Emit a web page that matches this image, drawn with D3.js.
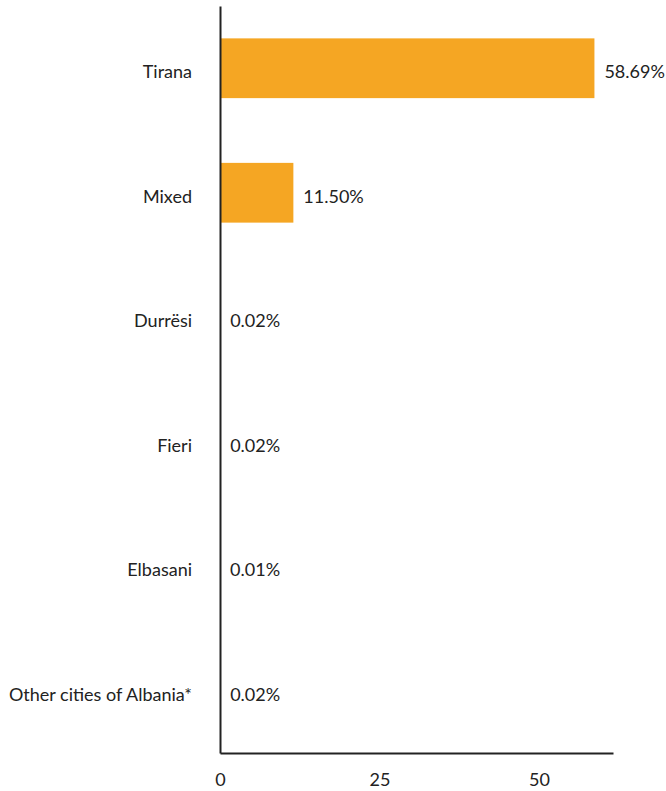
<!DOCTYPE html>
<html>
<head>
<meta charset="utf-8">
<script src="https://cdn.jsdelivr.net/npm/d3@7"></script>
<style>
    body { margin: 0; background: #fff; }
    svg text { font-family: Lato, "Open Sans", sans-serif; fill: #222; }
</style>
</head>
<body>
<div id="grafica"></div>
<script>
"use strict";

const ciudades = ["Tirana", "Mixed", "Durrësi", "Fieri", "Elbasani", "Other cities of Albania*"];
const valores = [58.69, 11.50, 0.02, 0.02, 0.01, 0.02];
const etiquetas = ["58.69%", "11.50%", "0.02%", "0.02%", "0.01%", "0.02%"];
const ticks = [0, 25, 50];

const width = 666, height = 791;
const margin = { top: 6, left: 220, right: 53, bottom: 38 };

const svg = d3.select('#grafica').append('svg')
    .attr('width', width)
    .attr('height', height);

const x = d3.scaleLinear()
    .domain([0, 61.6])
    .range([margin.left, width - margin.right]);

const y = d3.scaleBand()
    .domain(ciudades)
    .range([margin.top, height - margin.bottom])
    .paddingInner(0.52)
    .paddingOuter(0.26);

// barras
svg.selectAll('.barra')
    .data(valores)
    .enter().append('rect')
    .attr('class', 'barra')
    .attr('x', x(0))
    .attr('y', (d, i) => y(ciudades[i]))
    .attr('width', (d) => x(d) - x(0))
    .attr('height', y.bandwidth())
    .attr('fill', '#f5a623');

// etiquetas de valor
svg.selectAll('.valor')
    .data(valores)
    .enter().append('text')
    .attr('class', 'valor')
    .attr('x', (d) => x(d) + 10)
    .attr('y', (d, i) => y(ciudades[i]) + y.bandwidth() / 2)
    .attr('dy', '.55em')
    .style('font-size', '18px')
    .text((d, i) => etiquetas[i]);

// eje y
const ejeY = svg.append('g')
    .attr('transform', 'translate(' + x(0) + ',0)')
    .call(d3.axisLeft(y).tickSize(0).tickPadding(28));
ejeY.select('.domain').attr('stroke', '#222').attr('stroke-width', 2);
ejeY.selectAll('text')
    .attr('dy', '.55em')
    .style('font-size', '18px');

// eje x
const ejeX = svg.append('g')
    .attr('transform', 'translate(0,' + (height - margin.bottom) + ')')
    .call(d3.axisBottom(x).tickValues(ticks).tickSize(0).tickPadding(20));
ejeX.select('.domain').attr('stroke', '#222').attr('stroke-width', 2);
ejeX.selectAll('text')
    .style('font-size', '18px');
</script>
</body>
</html>
